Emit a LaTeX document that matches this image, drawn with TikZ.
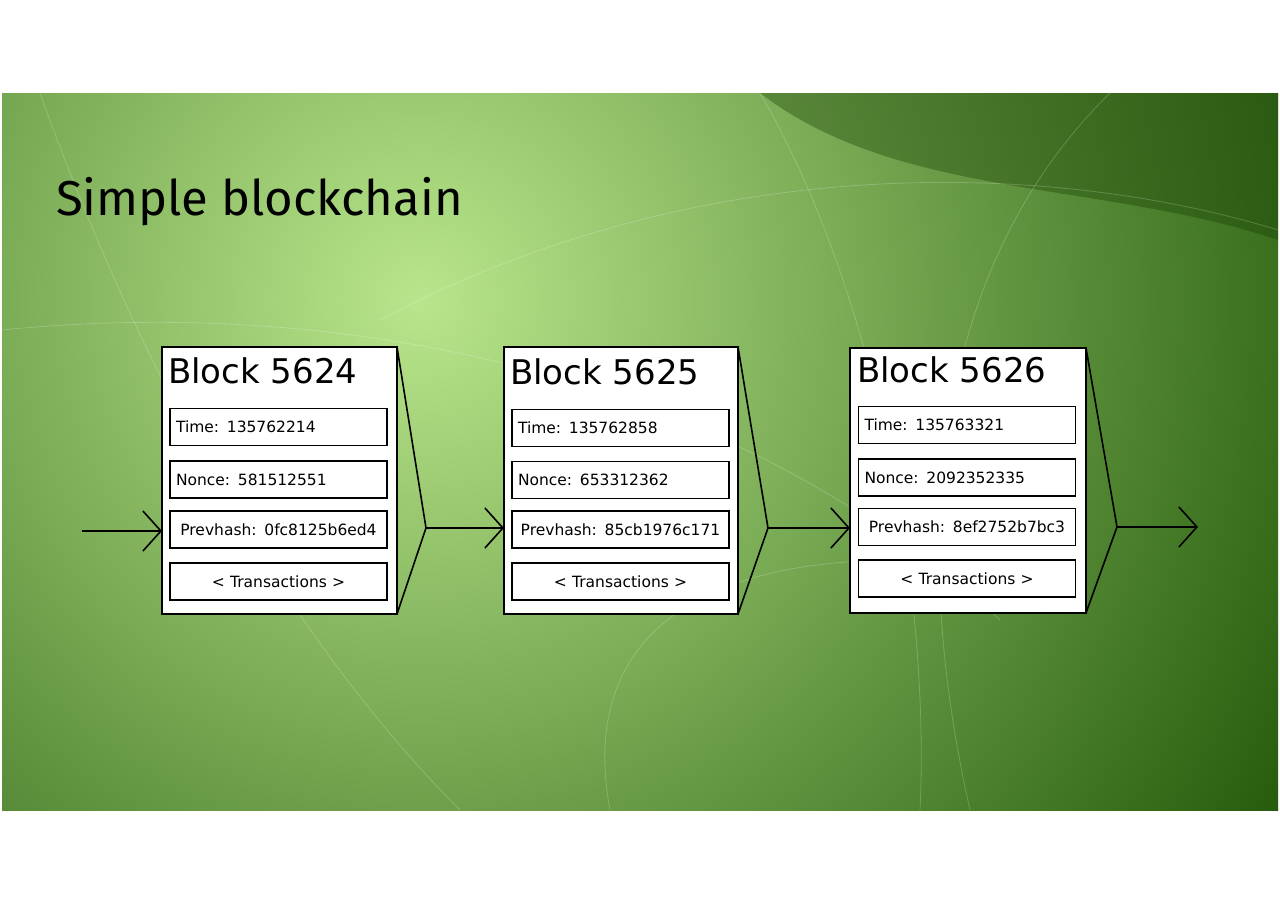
\documentclass[tikz,border=0pt]{standalone}
\usepackage{fontspec}
\setmainfont{DejaVu Sans}
\newfontfamily\titlefont{Fira Sans}
\usetikzlibrary{arrows.meta}
\definecolor{bgin}{RGB}{185,230,140}
\definecolor{bgout}{RGB}{30,85,5}
\definecolor{bgdark}{RGB}{20,60,0}
\begin{document}
\begin{tikzpicture}[x=1pt,y=-1pt,
  blk/.style={draw=black,fill=white,line width=1.6pt},
  fld/.style={draw=black,line width=1.6pt,minimum width=217pt,minimum height=37pt,text width=205pt,inner xsep=6pt,inner ysep=0pt,align=left,font=\fontsize{15.5}{17}\selectfont},
  ctr/.style={align=center},
  btitle/.style={anchor=west,font=\fontsize{34}{38}\selectfont,inner sep=0pt},
  lnk/.style={line width=1.6pt,-{Straight Barb[length=18pt,width=40pt,line width=1.6pt]}},
  edge/.style={line width=1.6pt}]
\useasboundingbox (0,0) rectangle (1280,905);
\fill[white] (0,0) rectangle (1280,905);
\begin{scope}
\clip (2,93) rectangle (1278,810);
\fill[bgout] (2,93) rectangle (1278,810);
\shade[inner color=bgin, outer color=bgout] (420,300) circle (1050);
\fill[bgdark,opacity=0.35] (760,93) .. controls (900,200) and (1100,180) .. (1278,240) -- (1278,93) -- cycle;
\begin{scope}[draw=white,opacity=0.2,line width=0.8pt]
\draw (40,93) .. controls (150,400) and (300,650) .. (460,810);
\draw (760,93) .. controls (880,300) and (930,600) .. (920,810);
\draw (1110,93) .. controls (950,250) and (900,500) .. (970,810);
\draw (2,330) .. controls (300,300) and (700,350) .. (1000,620);
\draw (380,320) .. controls (700,150) and (1050,160) .. (1278,230);
\draw (610,810) .. controls (580,650) and (680,560) .. (900,560);
\end{scope}
\end{scope}
\node[anchor=base west,inner sep=0pt,font=\titlefont\fontsize{49}{52}\selectfont] (title) at (56,215) {Simple blockchain};
% block 1
\draw[blk] (162,347) rectangle (397,614);
\coordinate (s1) at (397,347); \coordinate (e1) at (397,614); \coordinate (t1) at (426,528);
\draw[edge] (s1) -- (t1) -- (e1);
\node[btitle] (b1) at (168,371) {Block 5624};
\node[fld] (f11) at (278.5,427) {Time: 135762214};
\node[fld] (f12) at (278.5,479.5) {Nonce: 581512551};
\node[fld,ctr] (f13) at (278.5,529.5) {Prevhash: 0fc8125b6ed4};
\node[fld,ctr] (f14) at (278.5,581.5) {< Transactions >};
% block 2
\draw[blk] (504,347) rectangle (738,614);
\coordinate (s2) at (738,347); \coordinate (e2) at (738,614); \coordinate (t2) at (768,528);
\draw[edge] (s2) -- (t2) -- (e2);
\node[btitle] (b2) at (510,372) {Block 5625};
\node[fld] (f21) at (620.5,428) {Time: 135762858};
\node[fld] (f22) at (620.5,480) {Nonce: 653312362};
\node[fld,ctr] (f23) at (620.5,529.5) {Prevhash: 85cb1976c171};
\node[fld,ctr] (f24) at (620.5,581.5) {< Transactions >};
% block 3
\draw[blk] (850,348) rectangle (1086,613);
\coordinate (s3) at (1086,348); \coordinate (e3) at (1086,613); \coordinate (t3) at (1117,527);
\draw[edge] (s3) -- (t3) -- (e3);
\node[btitle] (b3) at (857,370) {Block 5626};
\node[fld] (f31) at (967,425) {Time: 135763321};
\node[fld] (f32) at (967,477.5) {Nonce: 2092352335};
\node[fld,ctr] (f33) at (967,527) {Prevhash: 8ef2752b7bc3};
\node[fld,ctr] (f34) at (967,578.5) {< Transactions >};
% links
\coordinate (in) at (82,531);
\coordinate (out) at (1198,527);
\draw[lnk] (in) -- (162,531);
\draw[lnk] (t1) -- (504,528);
\draw[lnk] (t2) -- (850,528);
\draw[lnk] (t3) -- (out);
\end{tikzpicture}
\end{document}
